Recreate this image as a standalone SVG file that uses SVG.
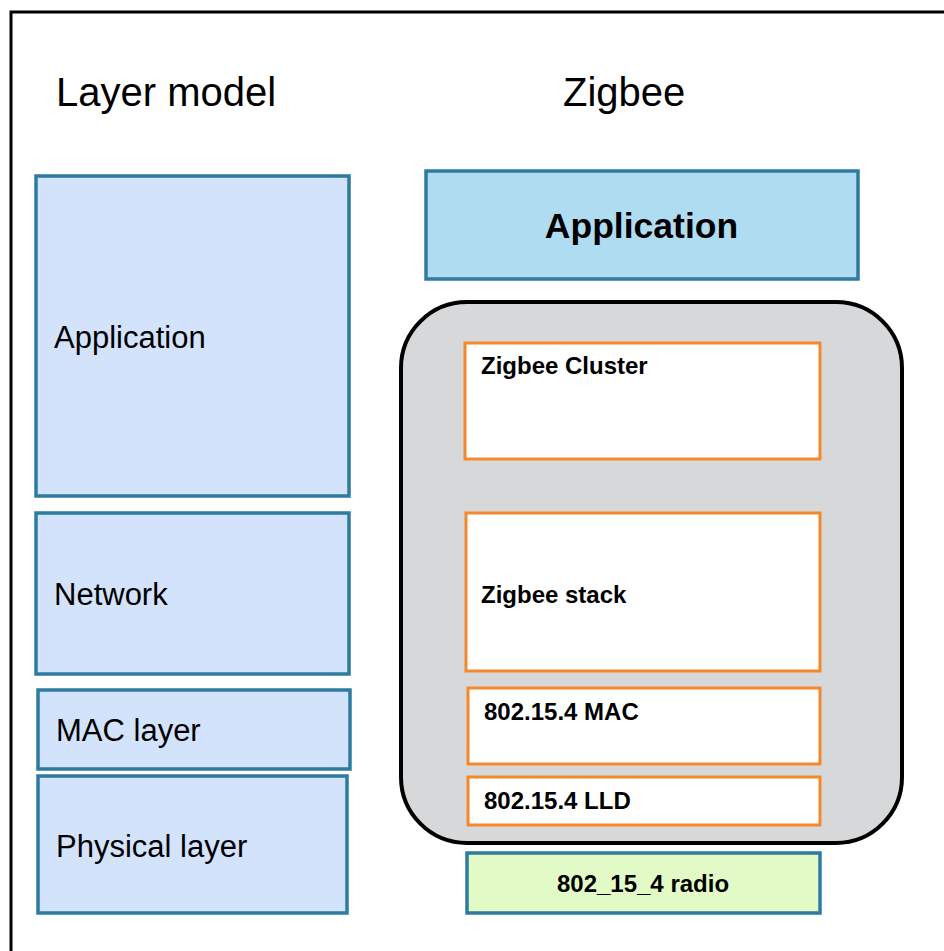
<svg xmlns="http://www.w3.org/2000/svg" width="944" height="951" viewBox="0 0 944 951">
<style>
.lm{fill:#d3e3fc;stroke:#2e7ba0;stroke-width:3.5}
.or{fill:#ffffff;stroke:#f5882c;stroke-width:3}
.t{font-family:"Liberation Sans",Arial,sans-serif;fill:#000}
.n{font-size:31px}
.b{font-size:24px;font-weight:bold}
</style>
<rect width="944" height="951" fill="#fff"/>
<path d="M11,960 V12 H960" fill="none" stroke="#000" stroke-width="3"/>
<text class="t" x="56" y="106" font-size="40">Layer model</text>
<text class="t" x="563" y="106" font-size="40">Zigbee</text>
<g id="lm-application"><rect class="lm" x="36" y="176" width="313" height="320"/><text class="t n" x="54" y="348">Application</text></g>
<g id="lm-network"><rect class="lm" x="36" y="513" width="313" height="161"/><text class="t n" x="54" y="605">Network</text></g>
<g id="lm-mac"><rect class="lm" x="38" y="690" width="312" height="79"/><text class="t n" x="56" y="741">MAC layer</text></g>
<g id="lm-phy"><rect class="lm" x="38" y="776" width="309" height="137"/><text class="t n" x="56" y="857">Physical layer</text></g>
<g id="zb-application"><rect x="426" y="171" width="432" height="108" fill="#b0dcf1" stroke="#2e7ba0" stroke-width="3.5"/><text class="t" x="641.5" y="238" font-size="35.5" font-weight="bold" text-anchor="middle">Application</text></g>
<g id="zb-container"><rect x="401" y="302" width="501" height="541" rx="66" ry="66" fill="#d7d8da" stroke="#000" stroke-width="4"/></g>
<g id="zb-cluster"><rect class="or" x="465" y="343" width="355" height="116"/><text class="t b" x="481" y="374">Zigbee Cluster</text></g>
<g id="zb-stack"><rect class="or" x="466" y="513" width="354" height="158"/><text class="t b" x="481" y="603">Zigbee stack</text></g>
<g id="zb-mac"><rect class="or" x="468" y="688" width="352" height="76"/><text class="t b" x="484" y="720">802.15.4 MAC</text></g>
<g id="zb-lld"><rect class="or" x="468" y="777" width="352" height="48"/><text class="t b" x="484" y="809">802.15.4 LLD</text></g>
<g id="zb-radio"><rect x="467" y="853" width="353" height="60" fill="#e2fbc6" stroke="#2e7ba0" stroke-width="3.5"/><text class="t b" x="643" y="892" text-anchor="middle">802_15_4 radio</text></g>
<g id="connectors"></g>
</svg>
